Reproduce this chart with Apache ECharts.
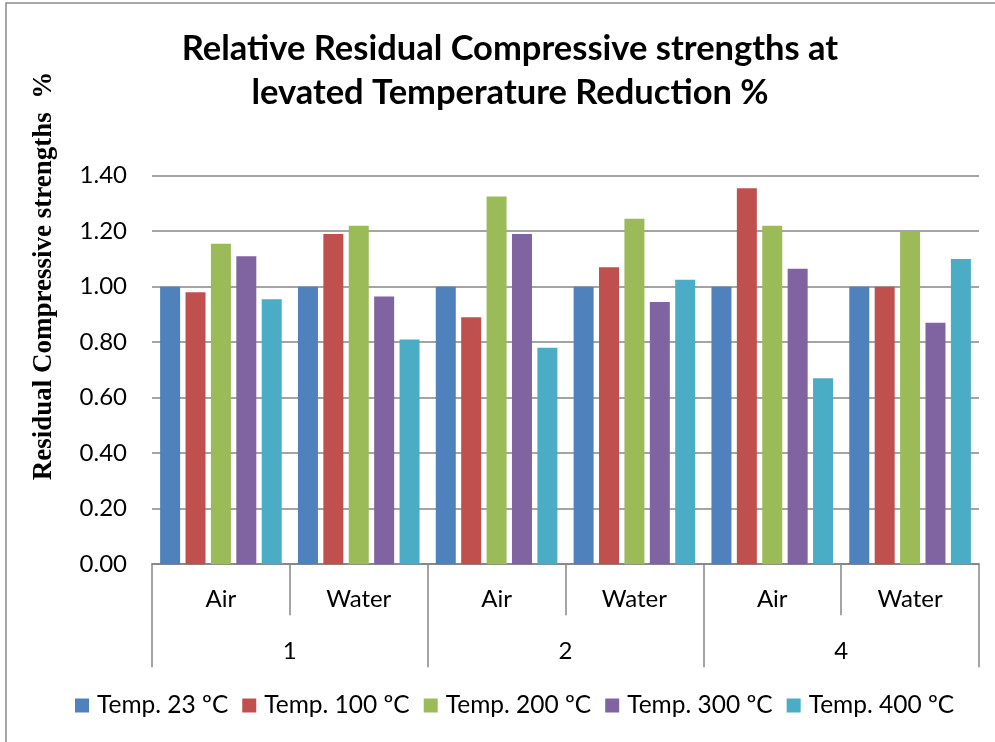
<!DOCTYPE html>
<html>
<head>
<meta charset="utf-8">
<script src="https://cdn.jsdelivr.net/npm/echarts@6/dist/echarts.min.js"></script>
<style>
html,body{margin:0;padding:0;background:#fff;}
#chart{width:995px;height:742px;}
</style>
</head>
<body>
<div id="chart"></div>
<script>
var subCategories = ['Air', 'Water', 'Air', 'Water', 'Air', 'Water'];
var groupCategories = ['1', '2', '4'];
var seriesNames = ['Temp. 23 ºC', 'Temp. 100 ºC', 'Temp. 200 ºC', 'Temp. 300 ºC', 'Temp. 400 ºC'];
var temp23 = [1.00, 1.00, 1.00, 1.00, 1.00, 1.00];
var temp100 = [0.98, 1.19, 0.89, 1.07, 1.355, 1.00];
var temp200 = [1.155, 1.22, 1.325, 1.245, 1.22, 1.20];
var temp300 = [1.11, 0.965, 1.19, 0.945, 1.065, 0.87];
var temp400 = [0.955, 0.81, 0.78, 1.025, 0.67, 1.10];
var yTicks = [0, 0.2, 0.4, 0.6, 0.8, 1.0, 1.2, 1.4];

var colors = ['#4F81BD', '#C0504D', '#9BBB59', '#8064A2', '#4BACC6'];
var allData = [temp23, temp100, temp200, temp300, temp400];

var chart = echarts.init(document.getElementById('chart'));
var series = allData.map(function (d, i) {
  return {
    name: seriesNames[i],
    type: 'bar',
    xAxisIndex: 0,
    data: d,
    barWidth: 20,
    barGap: '27%',
    itemStyle: { color: colors[i] }
  };
});

chart.setOption({
  animation: false,
  color: colors,
  title: {
    text: 'Relative Residual Compressive strengths at\nlevated Temperature Reduction %',
    left: 505,
    textAlign: 'center',
    top: 22,
    textStyle: {
      fontFamily: 'Lato',
      fontWeight: 'bold',
      fontSize: 34.5,
      lineHeight: 44,
      color: '#000'
    }
  },
  graphic: [
    {
      type: 'rect',
      shape: { x: 6, y: 3, width: 1100, height: 900 },
      style: { fill: 'none', stroke: '#8a8a8a', lineWidth: 1.5 },
      silent: true
    },
    {
      type: 'text',
      x: 44,
      y: 276,
      rotation: Math.PI / 2,
      style: {
        text: 'Residual Compressive strengths  %',
        font: 'bold 27px "Liberation Serif"',
        fill: '#000',
        textAlign: 'center',
        textVerticalAlign: 'middle'
      }
    }
  ],
  legend: {
    data: seriesNames,
    bottom: 19,
    left: 70,
    icon: 'rect',
    itemWidth: 14,
    itemHeight: 14,
    itemGap: 14,
    textStyle: { fontFamily: 'Lato', fontSize: 24.5, color: '#000', padding: [0, 0, 0, 3] }
  },
  grid: { left: 152, right: 16, top: 175.7, bottom: 177.8, containLabel: false },
  xAxis: [
    {
      type: 'category',
      data: subCategories,
      position: 'bottom',
      axisLine: { show: true, lineStyle: { color: '#868686', width: 1.5 } },
      axisTick: { show: true, interval: 0, length: 51, alignWithLabel: false, lineStyle: { color: '#868686', width: 1.5 } },
      axisLabel: { interval: 0, margin: 23, fontFamily: 'Lato', fontSize: 24, color: '#000' },
      splitLine: { show: false }
    },
    {
      type: 'category',
      data: groupCategories,
      position: 'bottom',
      axisLine: { show: true, lineStyle: { color: '#868686', width: 1.5 } },
      axisTick: { show: true, interval: 0, length: 103, alignWithLabel: false, lineStyle: { color: '#868686', width: 1.5 } },
      axisLabel: { interval: 0, margin: 75, fontFamily: 'Lato', fontSize: 24, color: '#000' },
      splitLine: { show: false }
    }
  ],
  yAxis: {
    type: 'value',
    min: 0,
    max: 1.4,
    interval: 0.2,
    axisLine: { show: false },
    axisTick: { show: false },
    axisLabel: {
      margin: 25,
      fontFamily: 'Lato',
      fontSize: 24,
      color: '#000',
      formatter: function (v) { return v.toFixed(2); }
    },
    splitLine: { show: true, lineStyle: { color: '#868686', width: 1.5 } }
  },
  series: series
});
</script>
</body>
</html>
